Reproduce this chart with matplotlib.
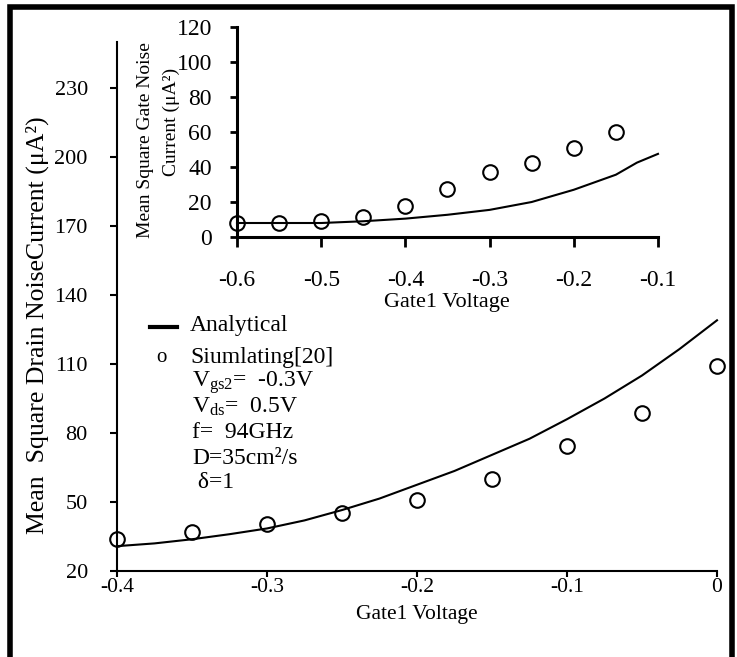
import matplotlib
matplotlib.use("Agg")
import matplotlib.pyplot as plt
from matplotlib.lines import Line2D
from matplotlib.patches import Rectangle

plt.rcParams['font.family'] = ['Liberation Serif', 'DejaVu Serif']
plt.rcParams['mathtext.fontset'] = 'custom'
plt.rcParams['mathtext.rm'] = 'Liberation Serif'
plt.rcParams['mathtext.it'] = 'Liberation Serif:italic'
plt.rcParams['axes.unicode_minus'] = False

# ---------------- data ----------------
# main chart: drain noise
main_sim_x = [-0.4, -0.35, -0.3, -0.25, -0.2, -0.15, -0.1, -0.05, 0.0]
main_sim_y = [33.8, 37.0, 40.5, 45.3, 50.8, 60.2, 74.2, 88.5, 109.0]
main_ana_x = [-0.4, -0.375, -0.35, -0.325, -0.3, -0.275, -0.25, -0.225, -0.2,
              -0.175, -0.15, -0.125, -0.1, -0.075, -0.05, -0.025, 0.0]
main_ana_y = [30.8, 32.0, 33.8, 36.0, 38.5, 42.0, 46.5, 51.5, 57.5,
              63.5, 70.5, 77.5, 86.0, 95.0, 105.0, 116.5, 129.0]
main_xticks = [-0.4, -0.3, -0.2, -0.1, 0.0]
main_xticklabels = ['-0.4', '-0.3', '-0.2', '-0.1', '0']
main_yticks = [20, 50, 80, 110, 140, 170, 200, 230]

# inset: gate noise
ins_sim_x = [-0.6, -0.55, -0.5, -0.45, -0.4, -0.35, -0.3, -0.25, -0.2, -0.15]
ins_sim_y = [8.0, 8.0, 9.2, 11.5, 17.8, 27.6, 37.4, 42.5, 50.6, 59.8]
ins_ana_x = [-0.6, -0.55, -0.5, -0.45, -0.4, -0.35, -0.3, -0.25, -0.2, -0.15, -0.125, -0.1]
ins_ana_y = [8.0, 8.0, 8.0, 9.0, 10.5, 12.7, 15.5, 20.0, 27.0, 35.6, 42.5, 47.5]
ins_xticks = [-0.6, -0.5, -0.4, -0.3, -0.2, -0.1]
ins_xticklabels = ['-0.6', '-0.5', '-0.4', '-0.3', '-0.2', '-0.1']
ins_yticks = [0, 20, 40, 60, 80, 100, 120]

legend_lines = ['Analytical', 'Siumlating[20]']
param_lines = [r'V$_{\mathrm{gs2}}$=  -0.3V', r'V$_{\mathrm{ds}}$=  0.5V',
               'f=  94GHz', 'D=35cm²/s', ' δ=1']

# ---------------- figure ----------------
W, H = 737, 657
fig = plt.figure(figsize=(W / 100, H / 100), dpi=100)

def fx(x):
    return x / W

def fy(y):
    return 1 - y / H

# main axes
ax = fig.add_axes([fx(117), fy(571), (717 - 117) / W, (571 - 42) / H])
ax.plot(main_ana_x, main_ana_y, color='black', lw=1.5, clip_on=False)
ax.plot(main_sim_x, main_sim_y, ls='none', marker='o', ms=10.5, mfc='none',
        mec='black', mew=1.5, clip_on=False)
ax.set_xlim(-0.4, 0.0)
ax.set_ylim(20, 250)
ax.set_xticks(main_xticks)
ax.set_xticklabels(main_xticklabels)
ax.set_yticks(main_yticks)
for s in ['top', 'right']:
    ax.spines[s].set_visible(False)
for s in ['left', 'bottom']:
    ax.spines[s].set_linewidth(1.5)
ax.tick_params(axis='y', direction='out', length=5, width=1.5, pad=16, labelsize=16)
ax.tick_params(axis='x', direction='out', length=4, width=1.5, pad=1, labelsize=15.5)
ax.patch.set_alpha(0)

fig.text(fx(417), fy(614), 'Gate1 Voltage', ha='center', va='center', fontsize=15.5)
fig.text(fx(37), fy(325), 'Mean  Square Drain NoiseCurrent (μA²)', rotation=90,
         ha='center', va='center', fontsize=18.5)

# inset axes
ai = fig.add_axes([fx(237), fy(237), (658 - 237) / W, (237 - 27) / H])
ai.plot(ins_ana_x, ins_ana_y, color='black', lw=1.5, clip_on=False)
ai.plot(ins_sim_x, ins_sim_y, ls='none', marker='o', ms=10.5, mfc='none',
        mec='black', mew=1.5, clip_on=False)
ai.set_xlim(-0.6, -0.1)
ai.set_ylim(0, 120)
ai.set_xticks(ins_xticks)
ai.set_xticklabels(ins_xticklabels)
ai.set_yticks(ins_yticks)
for s in ['top', 'right']:
    ai.spines[s].set_visible(False)
for s in ['left', 'bottom']:
    ai.spines[s].set_linewidth(2.2)
ai.tick_params(axis='y', direction='out', length=5, width=2, pad=13, labelsize=17)
ai.tick_params(axis='x', direction='out', length=7, width=2, pad=17, labelsize=17)
ai.patch.set_alpha(0)

fig.text(fx(447), fy(302), 'Gate1 Voltage', ha='center', va='center', fontsize=16)
fig.text(fx(146), fy(140), 'Mean Square Gate Noise', rotation=90,
         ha='center', va='center', fontsize=14)
fig.text(fx(171), fy(122), 'Current (μA²)', rotation=90,
         ha='center', va='center', fontsize=14)

# legend / annotation
fig.add_artist(Line2D([fx(150), fx(177)], [fy(327), fy(327)], color='black', lw=3,
                      transform=fig.transFigure))
fig.text(fx(190), fy(326), legend_lines[0], ha='left', va='center', fontsize=17)
fig.text(fx(161), fy(358), 'o', ha='center', va='center', fontsize=15)
fig.text(fx(190), fy(357), legend_lines[1], ha='left', va='center', fontsize=17)
param_y = [383, 407, 432, 458, 483]
for txt, yy in zip(param_lines, param_y):
    fig.text(fx(192), fy(yy), txt, ha='left', va='center', fontsize=17)

# outer frame (bottom edge outside the picture)
fig.add_artist(Rectangle((fx(9.5), fy(670)), fx(732) - fx(9.5), fy(6.5) - fy(670),
                         fill=False, ec='black', lw=4, transform=fig.transFigure,
                         clip_on=False))

fig.savefig('out.png', dpi=100)
